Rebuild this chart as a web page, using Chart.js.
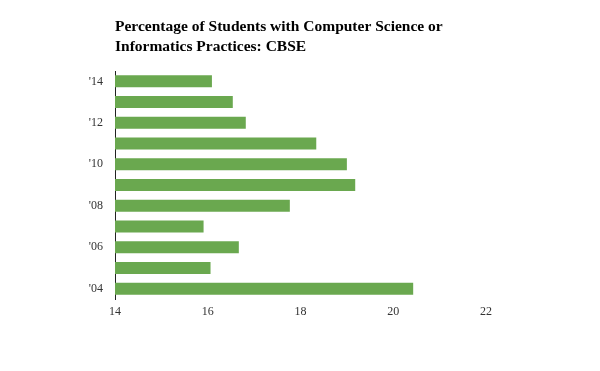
<!DOCTYPE html>
<html>
<head>
<meta charset="utf-8">
<script src="https://cdn.jsdelivr.net/npm/chart.js@4.4.1/dist/chart.umd.min.js"></script>
<style>
html,body{margin:0;padding:0;background:#fff;}
#wrap{width:600px;height:371px;position:relative;}
</style>
</head>
<body>
<div id="wrap"><canvas id="c" width="600" height="371"></canvas></div>
<script>
const titleLines = ["Percentage of Students with Computer Science or", "Informatics Practices: CBSE"];
const categories = ["'14", "'13", "'12", "'11", "'10", "'09", "'08", "'07", "'06", "'05", "'04"];
const values = [16.09, 16.54, 16.82, 18.34, 19.0, 19.18, 17.77, 15.91, 16.67, 16.06, 20.43];
const xTicks = [14, 16, 18, 20, 22];

const titlePlugin = {
  id: 'leftTitle',
  afterDraw(chart) {
    const ctx = chart.ctx;
    ctx.save();
    ctx.fillStyle = '#000';
    ctx.font = 'bold 15.5px "Liberation Serif", "Times New Roman", serif';
    ctx.textAlign = 'left';
    ctx.textBaseline = 'alphabetic';
    titleLines.forEach((t, i) => ctx.fillText(t, chart.chartArea.left, 31 + i * 20));
    ctx.restore();
  }
};

new Chart(document.getElementById('c'), {
  type: 'bar',
  data: {
    labels: categories,
    datasets: [{
      data: values,
      backgroundColor: '#6aa84f',
      borderWidth: 0,
      barPercentage: 0.58,
      categoryPercentage: 1.0
    }]
  },
  options: {
    indexAxis: 'y',
    responsive: false,
    animation: false,
    devicePixelRatio: 1,
    layout: { padding: { left: 0, top: 71, right: 114, bottom: 42 } },
    plugins: { legend: { display: false }, title: { display: false }, tooltip: { enabled: false } },
    scales: {
      x: {
        min: 14, max: 22,
        afterBuildTicks(scale) { scale.ticks = xTicks.map(v => ({ value: v })); },
        afterFit(scale) { scale.height = 30; },
        grid: { display: false, drawTicks: false },
        border: { display: false },
        ticks: { padding: 6, color: '#333', font: { family: '"Liberation Serif", serif', size: 12 } }
      },
      y: {
        afterFit(scale) { scale.width = 115; },
        grid: { display: false, drawTicks: false },
        border: { display: true, color: '#222', width: 1 },
        ticks: {
          padding: 12,
          color: '#333',
          autoSkip: false,
          font: { family: '"Liberation Serif", serif', size: 12 },
          callback(v, i) { return i % 2 === 0 ? this.getLabelForValue(v) : ''; }
        }
      }
    }
  },
  plugins: [titlePlugin]
});
</script>
</body>
</html>
